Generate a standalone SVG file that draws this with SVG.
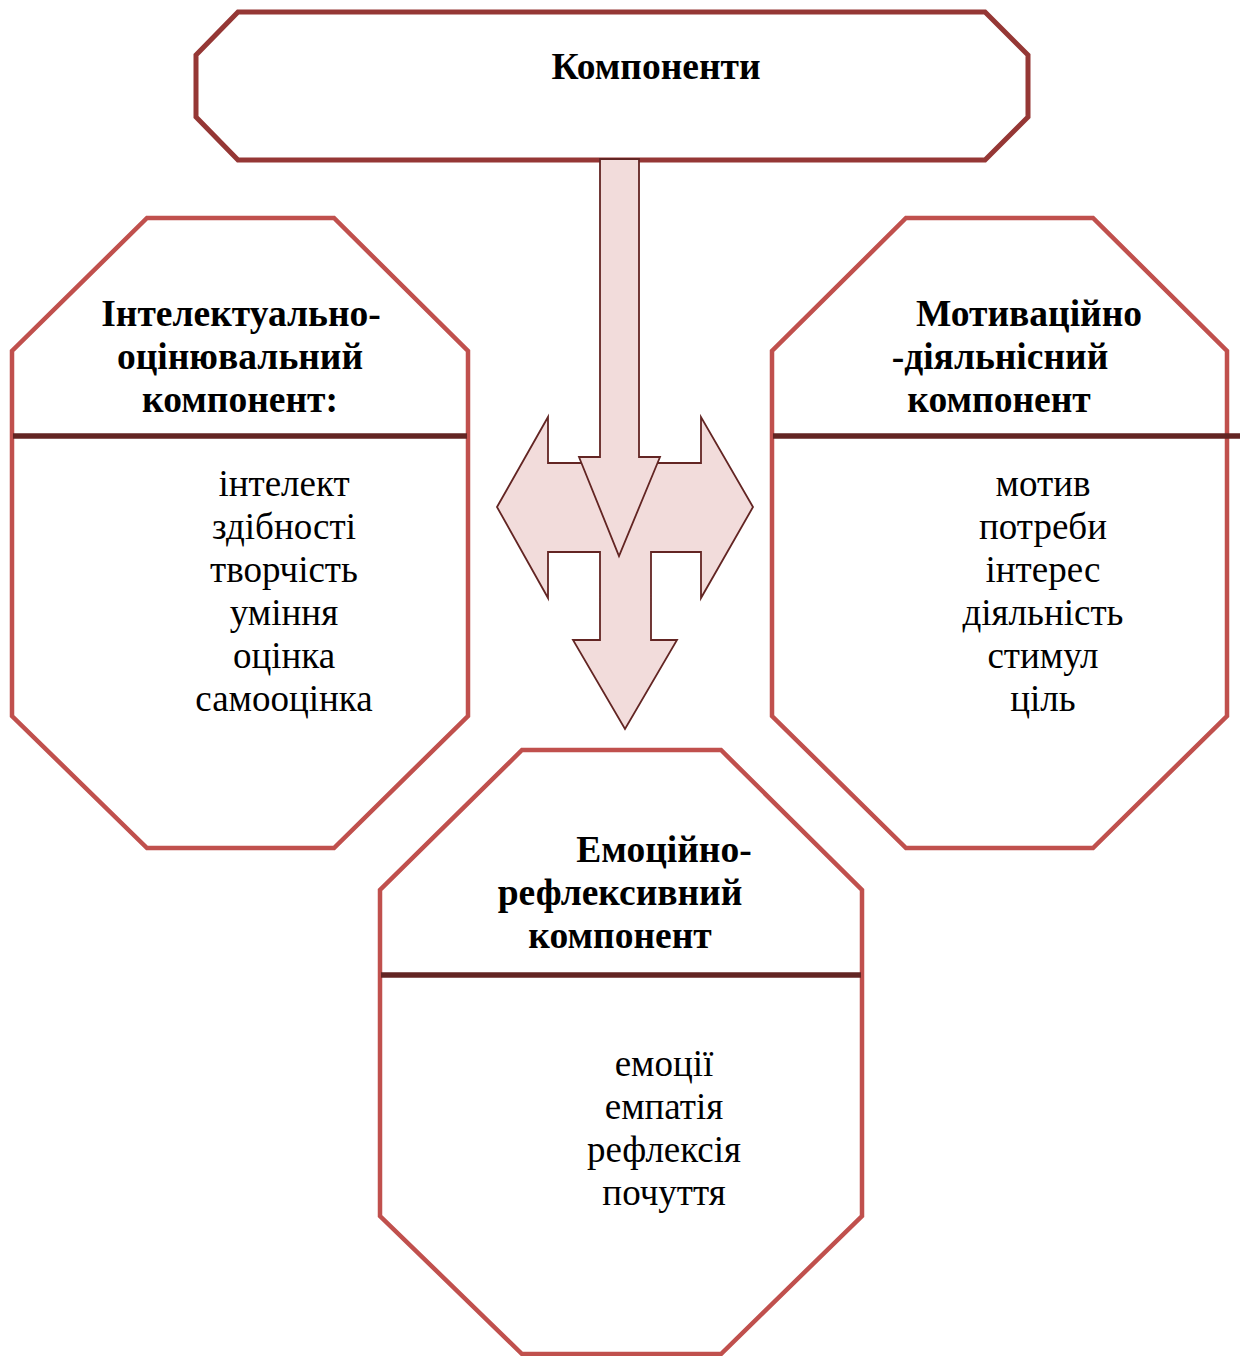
<svg xmlns="http://www.w3.org/2000/svg" width="1243" height="1356" viewBox="0 0 1243 1356">
<style>
.oct{fill:#ffffff;stroke:#c0504d;stroke-width:4.5;stroke-linejoin:miter}
.top{fill:#ffffff;stroke:#953735;stroke-width:5}
.div{stroke:#632523;stroke-width:5.5}
.arr{fill:#f2dcdb;stroke:#632523;stroke-width:1.8;stroke-linejoin:miter}
.h{font-family:"Liberation Serif","Times New Roman",serif;font-weight:bold;font-size:37.5px;fill:#000}
.b{font-family:"Liberation Serif","Times New Roman",serif;font-size:37px;fill:#000;text-anchor:middle}
</style>
<rect width="1243" height="1356" fill="#ffffff"/>
<g id="node-components">
<polygon class="top" points="238,12 985,12 1028,55 1028,117 985,160 238,160 196,117 196,55"/>
<text class="h" x="656" y="79" text-anchor="middle">Компоненти</text>
</g>
<g id="node-intellectual">
<polygon class="oct" points="147,218 334,218 468,351 468,716 334,848 147,848 12,716 12,351"/>
<line class="div" x1="13" y1="436" x2="467" y2="436"/>
<text class="h" text-anchor="middle"><tspan x="241" y="326">Інтелектуально-</tspan><tspan x="240" y="369">оцінювальний</tspan><tspan x="240" y="412">компонент:</tspan></text>
<text class="b"><tspan x="284" y="496">інтелект</tspan><tspan x="284" y="539">здібності</tspan><tspan x="284" y="582">творчість</tspan><tspan x="284" y="625">уміння</tspan><tspan x="284" y="668">оцінка</tspan><tspan x="284" y="711">самооцінка</tspan></text>
</g>
<g id="node-motivational">
<polygon class="oct" points="906,218 1093,218 1227,351 1227,716 1093,848 906,848 772,716 772,351"/>
<line class="div" x1="773" y1="436" x2="1240" y2="436"/>
<text class="h" text-anchor="middle"><tspan x="1029" y="326">Мотиваційно</tspan><tspan x="1000" y="369">-діяльнісний</tspan><tspan x="999" y="412">компонент</tspan></text>
<text class="b"><tspan x="1043" y="496">мотив</tspan><tspan x="1043" y="539">потреби</tspan><tspan x="1043" y="582">інтерес</tspan><tspan x="1043" y="625">діяльність</tspan><tspan x="1043" y="668">стимул</tspan><tspan x="1043" y="711">ціль</tspan></text>
</g>
<g id="node-emotional">
<polygon class="oct" points="522,750 721,750 862,890 862,1216 721,1354 522,1354 380,1216 380,890"/>
<line class="div" x1="381" y1="975" x2="861" y2="975"/>
<text class="h" text-anchor="middle"><tspan x="664" y="862">Емоційно-</tspan><tspan x="620" y="905">рефлексивний</tspan><tspan x="620" y="948">компонент</tspan></text>
<text class="b"><tspan x="664" y="1076">емоції</tspan><tspan x="664" y="1119">емпатія</tspan><tspan x="664" y="1162">рефлексія</tspan><tspan x="664" y="1205">почуття</tspan></text>
</g>
<g id="connectors">
<polygon class="arr" points="497,507 548,417 548,463 701,463 701,417 753,507 701,598 701,552 651,552 651,640 677,640 625,729 573,640 600,640 600,552 548,552 548,598"/>
<polygon class="arr" points="600,159 639,159 639,457 660,457 619,556 579,457 600,457"/>
</g>
</svg>
